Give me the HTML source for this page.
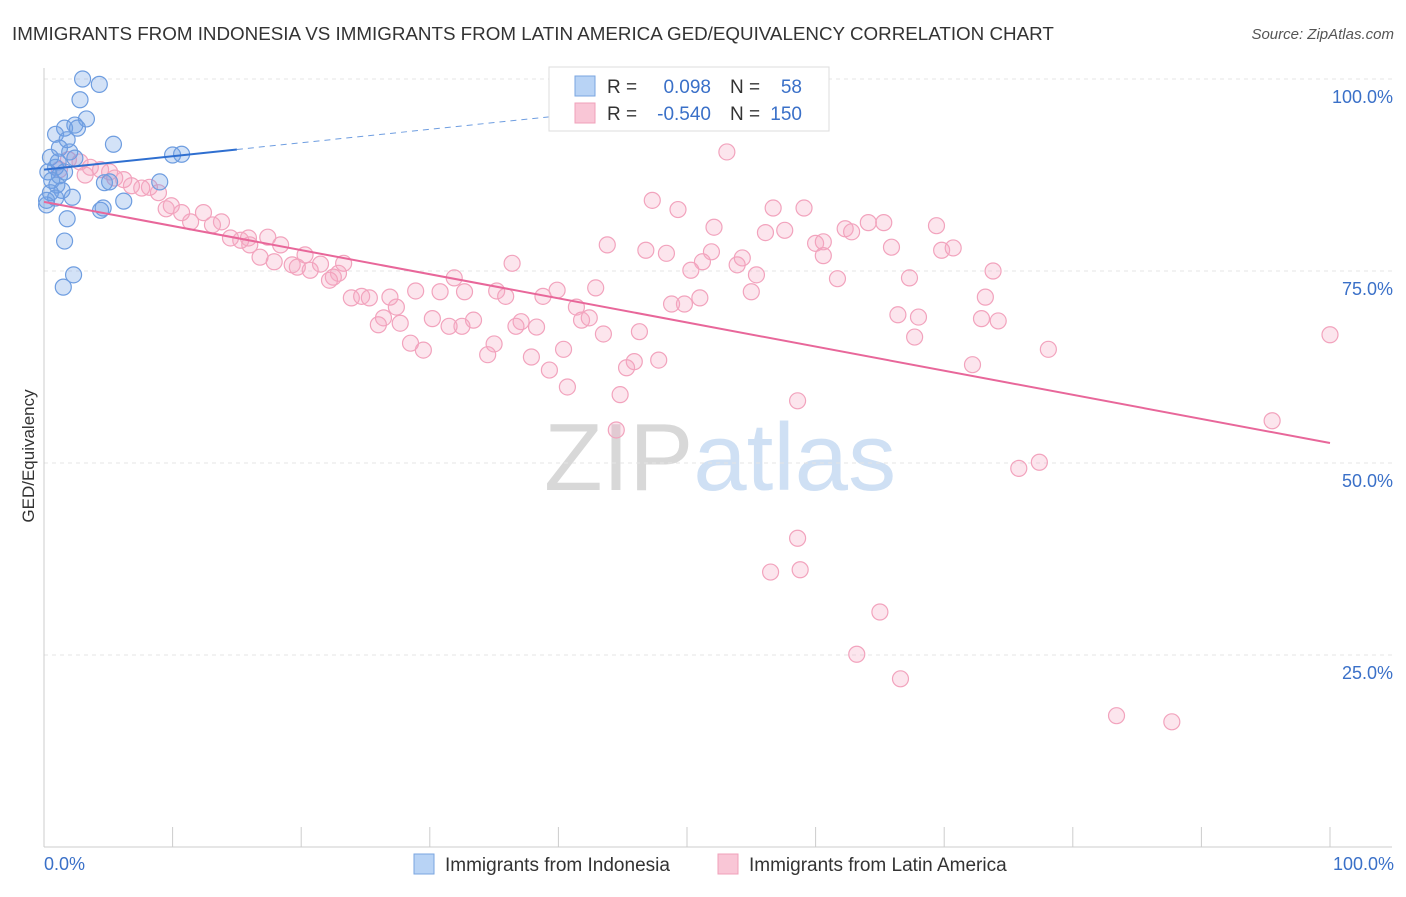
<!DOCTYPE html>
<html><head><meta charset="utf-8"><style>
body{margin:0;background:#fff;font-family:"Liberation Sans",sans-serif;}
svg text{font-family:"Liberation Sans",sans-serif;}
</style></head><body>
<svg id="chart" width="1406" height="892" xmlns="http://www.w3.org/2000/svg">
<text x="12" y="40" font-size="18.8" fill="#333">IMMIGRANTS FROM INDONESIA VS IMMIGRANTS FROM LATIN AMERICA GED/EQUIVALENCY CORRELATION CHART</text>
<text x="1394" y="39" font-size="15" fill="#555" text-anchor="end" font-style="italic">Source: ZipAtlas.com</text>
<text x="720" y="490" font-size="96" text-anchor="middle" fill="#ddd" font-family="Liberation Serif"><tspan fill="#d8d8d8">ZIP</tspan><tspan fill="#cfe0f4" font-family="Liberation Sans">atlas</tspan></text>
<text transform="translate(34,456) rotate(-90)" font-size="17" fill="#333" text-anchor="middle">GED/Equivalency</text>
<g id="grid"></g><g id="ticks"></g><g id="pts"></g><g id="trend"></g>
<g>
<rect x="549" y="67" width="280" height="64" fill="#fff" stroke="#ddd"/>
<rect x="575" y="76" width="20" height="20" fill="#b8d3f5" stroke="#7aa6e0"/>
<rect x="575" y="103" width="20" height="20" fill="#f9c6d6" stroke="#f0a0ba"/>
<text x="607" y="93" font-size="19" fill="#333">R =</text>
<text x="711" y="93" font-size="19" fill="#3a70c8" text-anchor="end">0.098</text>
<text x="730" y="93" font-size="19" fill="#333">N =</text>
<text x="802" y="93" font-size="19" fill="#3a70c8" text-anchor="end">58</text>
<text x="607" y="120" font-size="19" fill="#333">R =</text>
<text x="711" y="120" font-size="19" fill="#3a70c8" text-anchor="end">-0.540</text>
<text x="730" y="120" font-size="19" fill="#333">N =</text>
<text x="802" y="120" font-size="19" fill="#3a70c8" text-anchor="end">150</text>
</g>
<g>
<rect x="414" y="854" width="20" height="20" fill="#b8d3f5" stroke="#7aa6e0"/>
<text x="445" y="871" font-size="19" fill="#333">Immigrants from Indonesia</text>
<rect x="718" y="854" width="20" height="20" fill="#f9c6d6" stroke="#f0a0ba"/>
<text x="749" y="871" font-size="19" fill="#333">Immigrants from Latin America</text>
</g>
</svg>
<script>
const yTicks=[100,75,50,25];
const yTickLabels=["100.0%","75.0%","50.0%","25.0%"];
const xTicks=[0,10,20,30,40,50,60,70,80,90,100];
const blueX=[3.0,4.3,2.8,3.3,2.4,1.6,0.9,2.6,5.4,1.8,1.2,2.0,0.5,2.4,10.0,10.7,0.9,0.3,1.2,0.6,1.0,1.4,0.5,0.9,2.2,0.2,4.7,5.1,9.0,6.2,4.4,4.6,1.8,1.6,2.3,1.5,0.2,1.1,1.6];
const blueY=[100,99.3,97.3,94.8,94.0,93.6,92.8,93.6,91.5,92.1,91.0,90.5,89.8,89.7,90.1,90.2,88.5,87.9,87.4,86.8,86.2,85.5,85.2,84.5,84.6,83.6,86.5,86.6,86.6,84.1,82.9,83.2,81.8,78.9,74.5,72.9,84.2,89.2,87.9];
const pinkX=[53.1,47.3,49.3,52.1,56.7,59.1,56.1,57.6,43.8,46.8,48.4,51.9,54.3,51.2,50.3,53.9,55.4,60.0,60.6,60.6,62.3,62.8,64.1,65.3,65.9,69.4,69.8,70.7,67.3,61.7,55.0,51.0,49.8,48.8,42.9,39.9,38.8,41.4,41.8,42.4,43.5,46.3,45.9,45.3,47.8,44.8,44.5,40.7,39.3,40.4,37.9,38.3,37.1,36.7,35.0,34.5,33.4,32.5,31.5,30.2,29.5,28.5,27.7,26.4,26.0,27.4,26.9,28.9,30.8,32.7,31.9,35.2,35.9,36.4,23.3,22.9,22.5,22.2,23.9,24.7,25.3,21.5,20.3,20.7,19.3,19.7,17.9,16.8,16.0,15.3,14.5,18.4,17.4,15.9,13.8,13.1,12.4,11.4,10.7,9.5,9.9,8.9,8.2,7.6,6.8,6.2,5.1,4.4,3.6,2.8,1.9,1.2,3.2,5.5,58.6,58.6,56.5,58.8,65.0,63.2,66.6,83.4,87.7,75.8,77.4,95.5,100,78.1,72.2,73.8,73.2,72.9,74.2,67.7,66.4,68.0];
const pinkY=[90.5,84.2,83.0,80.7,83.2,83.2,80.0,80.3,78.4,77.7,77.3,77.5,76.7,76.2,75.1,75.8,74.5,78.6,78.8,77.0,80.5,80.1,81.3,81.3,78.1,80.9,77.7,78.0,74.1,74.0,72.3,71.5,70.7,70.7,72.8,72.5,71.7,70.3,68.6,68.9,66.8,67.1,63.2,62.4,63.4,58.9,54.3,59.9,62.1,64.8,63.8,67.7,68.4,67.8,65.5,64.1,68.6,67.8,67.8,68.8,64.7,65.6,68.2,68.9,68.0,70.3,71.6,72.4,72.3,72.3,74.1,72.4,71.7,76.0,76.0,74.7,74.2,73.8,71.5,71.7,71.5,75.9,77.1,75.1,75.8,75.5,76.2,76.8,78.4,79.0,79.3,78.4,79.4,79.3,81.4,81.0,82.6,81.4,82.6,83.1,83.5,85.2,85.9,85.8,86.1,86.9,87.9,88.2,88.5,89.2,89.5,88.2,87.5,87.1,58.1,40.2,35.8,36.1,30.6,25.1,21.9,17.1,16.3,49.3,50.1,55.5,66.7,64.8,62.8,75.0,71.6,68.8,68.5,66.4,69.3,69.0];
const pinkTrend=[84.0,52.6];
const blueTrend=[88.2,0.175];
const blueSolidEnd=15, blueDashEnd=40;

const NS="http://www.w3.org/2000/svg";
const X=v=>44+v*12.86, Y=v=>847-v*7.68;
function mk(t,a,p){const e=document.createElementNS(NS,t);for(const k in a)e.setAttribute(k,a[k]);p.appendChild(e);return e;}
const grid=document.getElementById('grid'),ticks=document.getElementById('ticks'),pts=document.getElementById('pts'),tr=document.getElementById('trend');
yTicks.forEach((v,i)=>{
 const l=mk('line',{x1:44,x2:1392,y1:Y(v),y2:Y(v),stroke:'#e4e4e4','stroke-dasharray':'4,4'},grid);
 
 
 const t=mk('text',{x:1393,y:Y(v)+24,'font-size':18,fill:'#3a70c8','text-anchor':'end'},ticks);
 t.textContent=yTickLabels[i];
 
 
});
const ax=mk('line',{x1:44,x2:44,y1:68,y2:847,stroke:'#ccc'},grid);


const bx=mk('line',{x1:44,x2:1392,y1:847,y2:847,stroke:'#ccc'},grid);


xTicks.forEach(v=>{
 const l=mk('line',{x1:X(v),x2:X(v),y1:827,y2:847,stroke:'#ccc'},grid);
 
 
});
[[0,"0.0%","start",44],[100,"100.0%","end",1394]].forEach(a=>{
 const t=mk('text',{x:a[3],y:870,'font-size':18,fill:'#3a70c8','text-anchor':a[2]},ticks);
 t.textContent=a[1];
 
 
});
pinkX.forEach((v,i)=>{
 const c=mk('circle',{cx:X(v),cy:Y(pinkY[i]),r:8,fill:'rgba(246,170,196,0.3)',stroke:'#f2a3bd','stroke-width':1.2},pts);
 
 
});
blueX.forEach((v,i)=>{
 const c=mk('circle',{cx:X(v),cy:Y(blueY[i]),r:8,fill:'rgba(110,160,230,0.3)',stroke:'#6e9de0','stroke-width':1.2},pts);
 
 
});
const pl=mk('line',{x1:X(0),y1:Y(pinkTrend[0]),x2:X(100),y2:Y(pinkTrend[1]),stroke:'#e8679a','stroke-width':2},tr);


const bl=mk('line',{x1:X(0),y1:Y(blueTrend[0]),x2:X(blueSolidEnd),y2:Y(blueTrend[0]+blueTrend[1]*blueSolidEnd),stroke:'#2f6fd0','stroke-width':2},tr);


const bd=mk('line',{x1:X(blueSolidEnd),y1:Y(blueTrend[0]+blueTrend[1]*blueSolidEnd),x2:X(blueDashEnd),y2:Y(blueTrend[0]+blueTrend[1]*blueDashEnd),stroke:'#6e9de0','stroke-width':1,'stroke-dasharray':'6,5'},tr);


</script>
</body></html>
